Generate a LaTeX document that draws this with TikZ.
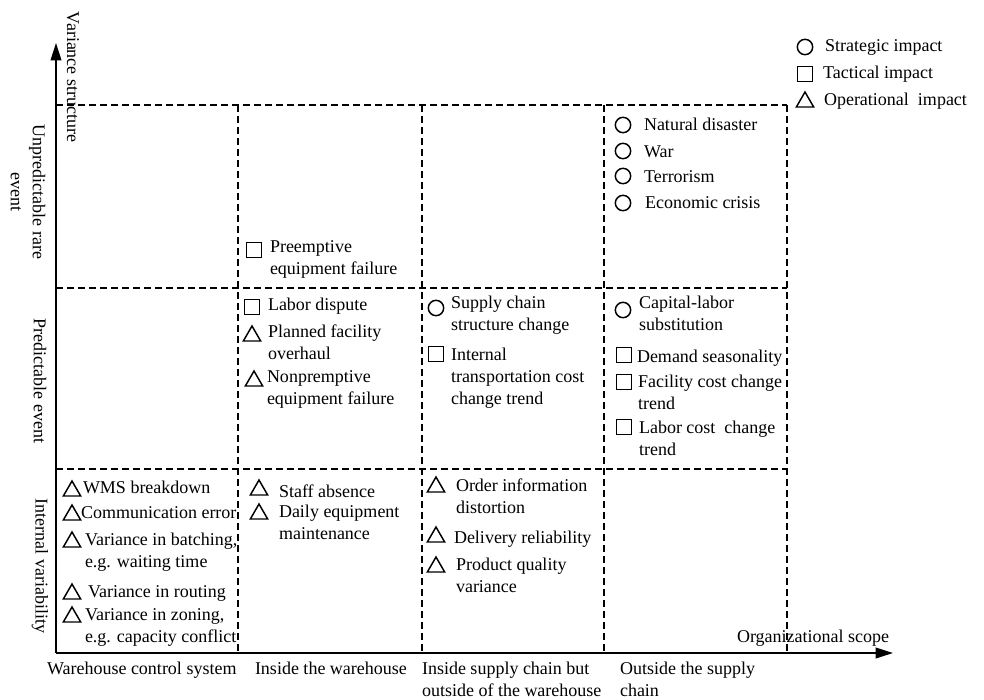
\documentclass[tikz,border=0pt]{standalone}
\usepackage{fontspec}
\setmainfont{Liberation Serif}
\usetikzlibrary{arrows.meta,shapes.geometric}
\newcommand{\mlines}[1]{\begin{tabular}[t]{@{}l@{}}#1\end{tabular}}
\begin{document}
\begin{tikzpicture}[x=0.75pt,y=-0.75pt,
 every node/.style={font=\fontsize{13.5pt}{16.5pt}\selectfont, inner sep=0pt, outer sep=0pt},
 gridline/.style={line width=0.8pt, dash pattern=on 5.25pt off 3pt},
 axisline/.style={line width=1.3pt, -{Triangle[length=13pt,width=8pt]}},
 mcirc/.style={draw, circle, line width=1.1pt, minimum size=11.5pt},
 msq/.style={draw, rectangle, line width=1.1pt, minimum size=11pt},
 mtri/.style={draw, regular polygon, regular polygon sides=3, line width=1.1pt, minimum size=15pt},
 lbl/.style={anchor=base west},
 rlbl/.style={rotate=-90, align=center}]
\useasboundingbox (0,0) rectangle (984,699);

% axes
\coordinate (O) at (56,653);
\coordinate (YT) at (56,43);
\coordinate (XT) at (893,653);

% grid
\foreach \y/\n in {105/a,288/b,469/c}{
  \coordinate (h\n0) at (56,\y);
  \coordinate (h\n1) at (787,\y);
  \draw[gridline] (h\n0) -- (h\n1);
}
\foreach \x/\n in {238/a,422/b,604/c,787/d}{
  \coordinate (v\n0) at (\x,105);
  \coordinate (v\n1) at (\x,653);
  \draw[gridline] (v\n0) -- (v\n1);
}
\draw[axisline] (O) -- (YT);
\draw[axisline] (O) -- (XT);

% axis labels
\node[rotate=-90, anchor=west] (yl) at (73,12) {Variance structure};
\node[lbl] (xl) at (737,642) {Organizational scope};

% row labels
\node[rlbl] (r1) at (28,192) {Unpredictable rare\\event};
\node[rlbl] (r2) at (40,381) {Predictable event};
\node[rlbl] (r3) at (40,566) {Internal variability};

% column labels
\node[lbl] (c1) at (47,674) {\mlines{Warehouse control system}};
\node[lbl] (c2) at (255,674) {\mlines{Inside the warehouse}};
\node[lbl] (c3) at (422,674) {\mlines{Inside supply chain but\\outside of the warehouse}};
\node[lbl] (c4) at (620,674) {\mlines{Outside the supply\\chain}};

% legend
\node[mcirc] (lc) at (805,47) {};
\node[lbl] (lct) at (825,52) {Strategic impact};
\node[msq] (ls) at (805,74) {};
\node[lbl] (lst) at (823,79) {Tactical impact};
\node[mtri] (lt) at (805,102) {};
\node[lbl] (ltt) at (824,105) {Operational\ \ impact};

% column 1, internal variability
\node[mtri] (a1) at (72,491) {};
\node[lbl] (a1t) at (83,493) {WMS breakdown};
\node[mtri] (a2) at (72,515) {};
\node[lbl] (a2t) at (81,518) {Communication error};
\node[mtri] (a3) at (72,542) {};
\node[lbl] (a3t) at (85,545) {\mlines{Variance in batching,\\e.g. waiting time}};
\node[mtri] (a4) at (72,594) {};
\node[lbl] (a4t) at (88,597) {Variance in routing};
\node[mtri] (a5) at (72,617) {};
\node[lbl] (a5t) at (85,620) {\mlines{Variance in zoning,\\e.g. capacity conflict}};

% column 2
\node[msq] (b1) at (254,250) {};
\node[lbl] (b1t) at (270,252) {\mlines{Preemptive\\equipment failure}};
\node[msq] (b2) at (252,307) {};
\node[lbl] (b2t) at (268,310) {Labor dispute};
\node[mtri] (b3) at (252,336) {};
\node[lbl] (b3t) at (268,337) {\mlines{Planned facility\\overhaul}};
\node[mtri] (b4) at (254,381) {};
\node[lbl] (b4t) at (267,382) {\mlines{Nonpremptive\\equipment failure}};
\node[mtri] (b5) at (259,490) {};
\node[lbl] (b5t) at (279,497) {Staff absence};
\node[mtri] (b6) at (259,514) {};
\node[lbl] (b6t) at (279,517) {\mlines{Daily equipment\\maintenance}};

% column 3
\node[mcirc] (d1) at (436,308) {};
\node[lbl] (d1t) at (451,308) {\mlines{Supply chain\\structure change}};
\node[msq] (d2) at (436,354) {};
\node[lbl] (d2t) at (451,360) {\mlines{Internal\\transportation cost\\change trend}};
\node[mtri] (d3) at (436,487) {};
\node[lbl] (d3t) at (456,491) {\mlines{Order information\\distortion}};
\node[mtri] (d4) at (436,537) {};
\node[lbl] (d4t) at (454,543) {Delivery reliability};
\node[mtri] (d5) at (436,567) {};
\node[lbl] (d5t) at (456,570) {\mlines{Product quality\\variance}};

% column 4
\node[mcirc] (e1) at (623,125) {};
\node[lbl] (e1t) at (644,130) {Natural disaster};
\node[mcirc] (e2) at (623,151) {};
\node[lbl] (e2t) at (644,157) {War};
\node[mcirc] (e3) at (623,176) {};
\node[lbl] (e3t) at (644,182) {Terrorism};
\node[mcirc] (e4) at (623,203) {};
\node[lbl] (e4t) at (645,208) {Economic crisis};
\node[mcirc] (e5) at (623,310) {};
\node[lbl] (e5t) at (639,308) {\mlines{Capital-labor\\substitution}};
\node[msq] (e6) at (624,355) {};
\node[lbl] (e6t) at (637,362) {Demand seasonality};
\node[msq] (e7) at (624,382) {};
\node[lbl] (e7t) at (638,387) {\mlines{Facility cost change\\trend}};
\node[msq] (e8) at (624,427) {};
\node[lbl] (e8t) at (639,433) {\mlines{Labor cost\ \ change\\trend}};
\end{tikzpicture}
\end{document}
